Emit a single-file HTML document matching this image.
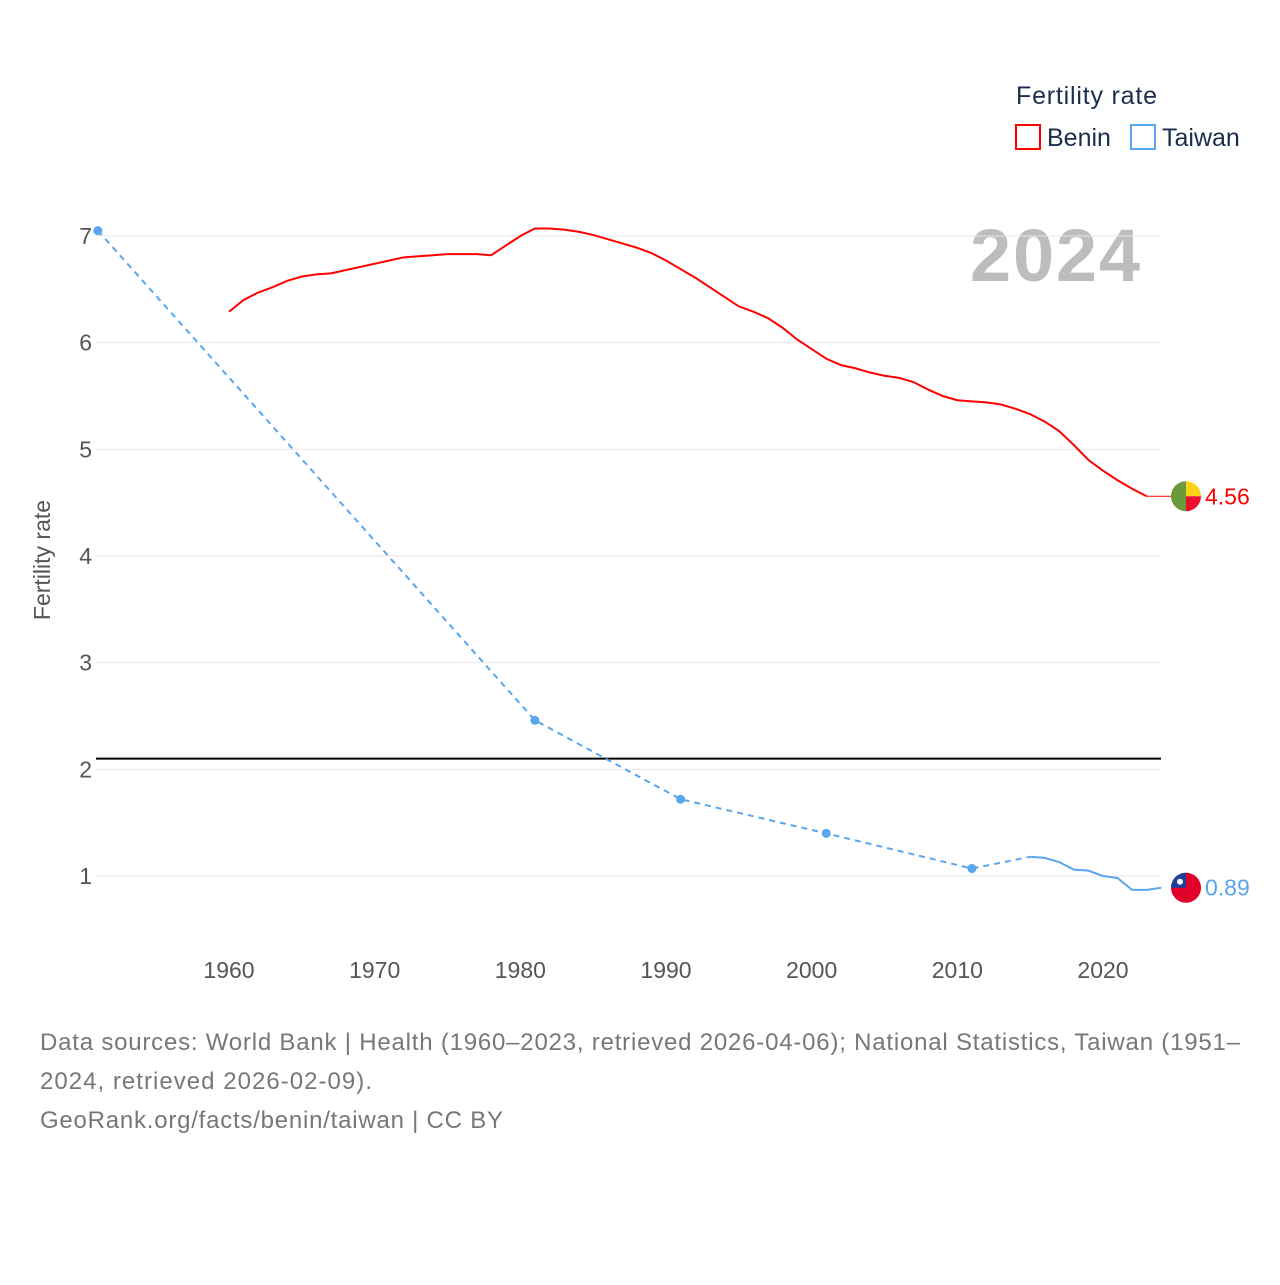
<!DOCTYPE html>
<html><head><meta charset="utf-8"><style>
body{margin:0;background:#fff;font-family:"Liberation Sans",sans-serif}
svg text{font-family:"Liberation Sans",sans-serif}
</style></head><body>
<svg id="chart" width="1280" height="1280" xmlns="http://www.w3.org/2000/svg">
<g>
<text x="1016" y="104" font-size="25" fill="#1a2e4c" textLength="141">Fertility rate</text>
<rect x="1016" y="125" width="24" height="24" fill="none" stroke="#ff0000" stroke-width="2"/>
<text x="1047" y="146" font-size="25" fill="#1a2e4c">Benin</text>
<rect x="1131" y="125" width="24" height="24" fill="none" stroke="#5aa5ec" stroke-width="2"/>
<text x="1162" y="146" font-size="25" fill="#1a2e4c">Taiwan</text>
</g>
<text x="1140" y="281" text-anchor="end" font-size="74" font-weight="bold" fill="#bdbdbd" textLength="170">2024</text>
<text transform="translate(50,560) rotate(-90)" text-anchor="middle" font-size="23" fill="#555">Fertility rate</text>
<g id="grid"></g><g id="series"></g>
<text x="40" y="1050" font-size="24" fill="#777" textLength="1200">Data sources: World Bank | Health (1960–2023, retrieved 2026-04-06); National Statistics, Taiwan (1951–</text>
<text x="40" y="1089" font-size="24" fill="#777" textLength="332">2024, retrieved 2026-02-09).</text>
<text x="40" y="1128" font-size="24" fill="#777" textLength="463">GeoRank.org/facts/benin/taiwan | CC BY</text>
</svg>
<script>
const yTicks=[1,2,3,4,5,6,7];
const xTicks=[1960,1970,1980,1990,2000,2010,2020];
const beninYears=[];for(let y=1960;y<=2023;y++)beninYears.push(y);
const beninValues=[6.29,6.40,6.47,6.52,6.58,6.62,6.64,6.65,6.68,6.71,6.74,6.77,6.80,6.81,6.82,6.83,6.83,6.83,6.82,6.91,7.0,7.07,7.07,7.06,7.04,7.01,6.97,6.93,6.89,6.84,6.77,6.69,6.61,6.52,6.43,6.34,6.29,6.23,6.14,6.03,5.94,5.85,5.79,5.76,5.72,5.69,5.67,5.63,5.56,5.50,5.46,5.45,5.44,5.42,5.38,5.33,5.26,5.17,5.04,4.90,4.80,4.71,4.63,4.56];
const taiwanSparseYears=[1951,1981,1991,2001,2011,2015];
const taiwanSparseValues=[7.05,2.46,1.72,1.40,1.07,1.18];
const taiwanYears=[2015,2016,2017,2018,2019,2020,2021,2022,2023,2024];
const taiwanValues=[1.18,1.17,1.13,1.06,1.05,1.00,0.98,0.87,0.87,0.89];
const replacement=2.1;
const X=y=>229+(y-1960)*(874/60);
const Y=v=>876-(v-1)*(640/6);
const NS="http://www.w3.org/2000/svg";
function mk(t,a,p){const e=document.createElementNS(NS,t);for(const k in a)e.setAttribute(k,a[k]);p.appendChild(e);return e;}
const grid=document.getElementById('grid'),ser=document.getElementById('series');
yTicks.forEach(v=>{
 const l=mk('line',{x1:96,x2:1161,y1:Y(v),y2:Y(v),stroke:'#e6e6e6','stroke-width':1},grid);
 
 
 const t=mk('text',{x:92,y:Y(v)+8,'text-anchor':'end','font-size':23,fill:'#555'},grid);t.textContent=v;
 
 
});
xTicks.forEach(v=>{
 const t=mk('text',{x:X(v),y:978,'text-anchor':'middle','font-size':23,fill:'#555'},grid);t.textContent=v;
 
 
});
const rl=mk('line',{x1:96,x2:1161,y1:Y(replacement),y2:Y(replacement),stroke:'#000','stroke-width':2},grid);


const pts=(xs,vs)=>xs.map((y,i)=>X(y)+','+Y(vs[i])).join(' ');
const b=mk('polyline',{points:pts(beninYears,beninValues),fill:'none',stroke:'#ff0000','stroke-width':2},ser);


const bl=beninValues[beninValues.length-1];
const be=mk('line',{x1:X(2023),x2:1175,y1:Y(bl),y2:Y(bl),stroke:'#ff0000','stroke-width':1},ser);


const td=mk('polyline',{points:pts(taiwanSparseYears,taiwanSparseValues),fill:'none',stroke:'#5aa5ec','stroke-width':2,'stroke-dasharray':'6,5'},ser);


taiwanSparseYears.slice(0,5).forEach((y,i)=>{
 const c=mk('circle',{cx:X(y),cy:Y(taiwanSparseValues[i]),r:4.5,fill:'#5aa5ec'},ser);
 
 
});
const ts=mk('polyline',{points:pts(taiwanYears,taiwanValues),fill:'none',stroke:'#5aa5ec','stroke-width':2},ser);


const tl=taiwanValues[taiwanValues.length-1];
const bf=mk('g',{},ser);


const cx=1186,cy=Y(bl);
mk('path',{d:`M${cx},${cy-15} A15,15 0 0,0 ${cx},${cy+15} Z`,fill:'#6a9a3a'},bf);
mk('path',{d:`M${cx},${cy-15} A15,15 0 0,1 ${cx+15},${cy} L${cx},${cy} Z`,fill:'#fcd116'},bf);
mk('path',{d:`M${cx+15},${cy} A15,15 0 0,1 ${cx},${cy+15} L${cx},${cy} Z`,fill:'#e8112d'},bf);
const bt=mk('text',{x:1205,y:Y(bl)+8,'font-size':23,fill:'#ff0000'},ser);bt.textContent=bl.toFixed(2);


const tf=mk('g',{},ser);


const ty=Y(tl);
mk('circle',{cx:1186,cy:ty,r:15,fill:'#e0002a'},tf);
mk('path',{d:`M1186,${ty} L1171,${ty} A15,15 0 0,1 1186,${ty-15} Z`,fill:'#1d3f9a'},tf);
mk('circle',{cx:1180,cy:ty-6,r:3,fill:'#fff'},tf);
const tt=mk('text',{x:1205,y:ty+8,'font-size':23,fill:'#5aa5ec'},ser);tt.textContent=tl.toFixed(2);


</script>
</body></html>
